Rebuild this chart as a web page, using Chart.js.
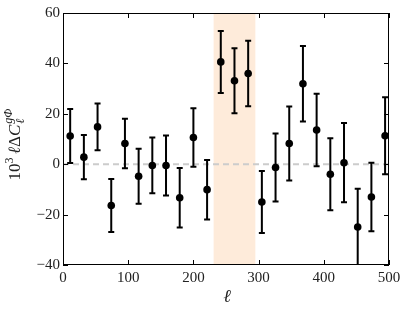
<!DOCTYPE html>
<html><head><meta charset="utf-8">
<script src="https://cdn.jsdelivr.net/npm/chart.js@4"></script>
<style>html,body{margin:0;padding:0;background:#fff}#wrap{width:407px;height:310px}</style>
</head><body><div id="wrap"><canvas id="c" width="407" height="310"></canvas></div>
<script>
const ell   = [11, 32, 53, 74, 95, 116, 137, 158, 179, 200, 221, 242, 263, 284, 305, 326, 347, 368, 389, 410, 431, 452, 473, 494];
const value = [11.2, 2.8, 14.8, -16.4, 8.2, -4.8, -0.5, -0.5, -13.3, 10.6, -10.1, 40.6, 33.1, 36.0, -15.0, -1.3, 8.2, 31.9, 13.6, -4.0, 0.6, -24.9, -13.0, 11.3];
const err   = [10.75, 8.75, 9.3, 10.5, 9.85, 10.9, 11.05, 11.9, 11.8, 11.6, 11.8, 12.3, 12.9, 13.0, 12.3, 13.5, 14.7, 15.0, 14.4, 14.3, 15.7, 15.2, 13.6, 15.3];
const band  = [231, 295];
const refLine = 0;
const xTicks = [0, 100, 200, 300, 400, 500];
const yTicks = [-40, -20, 0, 20, 40, 60];

const SERIF = '"Liberation Serif", "DejaVu Serif", serif';
const fmt = v => String(v).replace('-', '\u2212');

const decor = {
  id: 'decor',
  beforeDatasetsDraw(chart) {
    const {ctx, chartArea: a, scales: {x, y}} = chart;
    ctx.save();
    ctx.beginPath(); ctx.rect(a.left, a.top, a.right - a.left, a.bottom - a.top); ctx.clip();
    const x0 = x.getPixelForValue(band[0]), x1 = x.getPixelForValue(band[1]);
    ctx.fillStyle = '#feebda';
    ctx.fillRect(x0, a.top, x1 - x0, a.bottom - a.top);
    const y0 = y.getPixelForValue(refLine);
    ctx.strokeStyle = '#cccccc'; ctx.lineWidth = 2; ctx.setLineDash([6, 4]);
    ctx.beginPath(); ctx.moveTo(a.left, y0); ctx.lineTo(a.right, y0); ctx.stroke();
    ctx.setLineDash([]);
    ctx.strokeStyle = '#000'; ctx.lineWidth = 2;
    ell.forEach((l, i) => {
      const px = x.getPixelForValue(l);
      const yt = y.getPixelForValue(value[i] + err[i]);
      const yb = y.getPixelForValue(value[i] - err[i]);
      ctx.beginPath();
      ctx.moveTo(px, yt); ctx.lineTo(px, yb);
      ctx.moveTo(px - 3, yt); ctx.lineTo(px + 3, yt);
      ctx.moveTo(px - 3, yb); ctx.lineTo(px + 3, yb);
      ctx.stroke();
    });
    ctx.restore();
  },
  afterDraw(chart) {
    const {ctx, chartArea: a, scales: {x, y}} = chart;
    ctx.save();
    ctx.strokeStyle = '#000'; ctx.lineWidth = 1;
    ctx.strokeRect(a.left + 0.5, a.top + 0.5, a.right - a.left - 1, a.bottom - a.top - 1);
    ctx.beginPath();
    xTicks.forEach(v => {
      const px = Math.round(x.getPixelForValue(v)) + 0.5;
      ctx.moveTo(px, a.bottom); ctx.lineTo(px, a.bottom - 5);
      ctx.moveTo(px, a.top); ctx.lineTo(px, a.top + 5);
    });
    yTicks.forEach(v => {
      const py = Math.round(y.getPixelForValue(v)) + 0.5;
      ctx.moveTo(a.left, py); ctx.lineTo(a.left + 5, py);
      ctx.moveTo(a.right, py); ctx.lineTo(a.right - 5, py);
    });
    ctx.stroke();
    // x title
    ctx.fillStyle = '#222';
    ctx.font = 'italic 18px ' + SERIF;
    ctx.textAlign = 'center'; ctx.textBaseline = 'middle';
    ctx.fillText('\u2113', (a.left + a.right) / 2 + 1, 297);
    // y title
    const pieces = [
      {t: '10', f: '17px ' + SERIF, dy: 0},
      {t: '3', f: '12px ' + SERIF, dy: -7},
      {t: ' ', f: '14px ' + SERIF, dy: 0},
      {t: '\u2113', f: 'italic 17px ' + SERIF, dy: 0},
      {t: '\u0394', f: '17px ' + SERIF, dy: 0},
      {t: 'C', f: 'italic 17px ' + SERIF, dy: 0},
    ];
    const subF = 'italic 12px ' + SERIF;
    let total = 0;
    pieces.forEach(p => { ctx.font = p.f; p.w = ctx.measureText(p.t).width; total += p.w; });
    ctx.font = subF;
    const wSub = ctx.measureText('\u2113').width, wSup = ctx.measureText('g\u03A6').width;
    total += Math.max(wSub, wSup);
    ctx.translate(14, 145);
    ctx.rotate(-Math.PI / 2);
    ctx.textAlign = 'left'; ctx.textBaseline = 'alphabetic';
    let cx = -total / 2;
    pieces.forEach(p => { ctx.font = p.f; ctx.fillText(p.t, cx, 6 + p.dy); cx += p.w; });
    ctx.font = subF;
    ctx.fillText('\u2113', cx + 1, 10);
    ctx.fillText('g\u03A6', cx + 1, -2);
    ctx.restore();
  }
};

new Chart(document.getElementById('c'), {
  type: 'scatter',
  data: {
    datasets: [{
      data: ell.map((l, i) => ({x: l, y: value[i]})),
      backgroundColor: '#000', borderColor: '#000',
      pointRadius: 3.8, pointHoverRadius: 3.8, borderWidth: 0
    }]
  },
  options: {
    responsive: false, animation: false,
    layout: {padding: {top: 13, right: 18, left: 0, bottom: 0}},
    plugins: {legend: {display: false}, tooltip: {enabled: false}},
    scales: {
      x: {
        type: 'linear', min: 0, max: 500,
        afterBuildTicks: s => { s.ticks = xTicks.map(v => ({value: v})); },
        afterFit: s => { s.height = 45; },
        grid: {display: false, drawTicks: false}, border: {display: false},
        ticks: {padding: 4, color: '#222', font: {family: SERIF, size: 15}, callback: v => fmt(v), maxRotation: 0}
      },
      y: {
        min: -40, max: 60,
        afterBuildTicks: s => { s.ticks = yTicks.map(v => ({value: v})); },
        afterFit: s => { s.width = 63; },
        grid: {display: false, drawTicks: false}, border: {display: false},
        ticks: {padding: 3, color: '#222', font: {family: SERIF, size: 15}, callback: v => fmt(v)}
      }
    }
  },
  plugins: [decor]
});
</script>
</body></html>
